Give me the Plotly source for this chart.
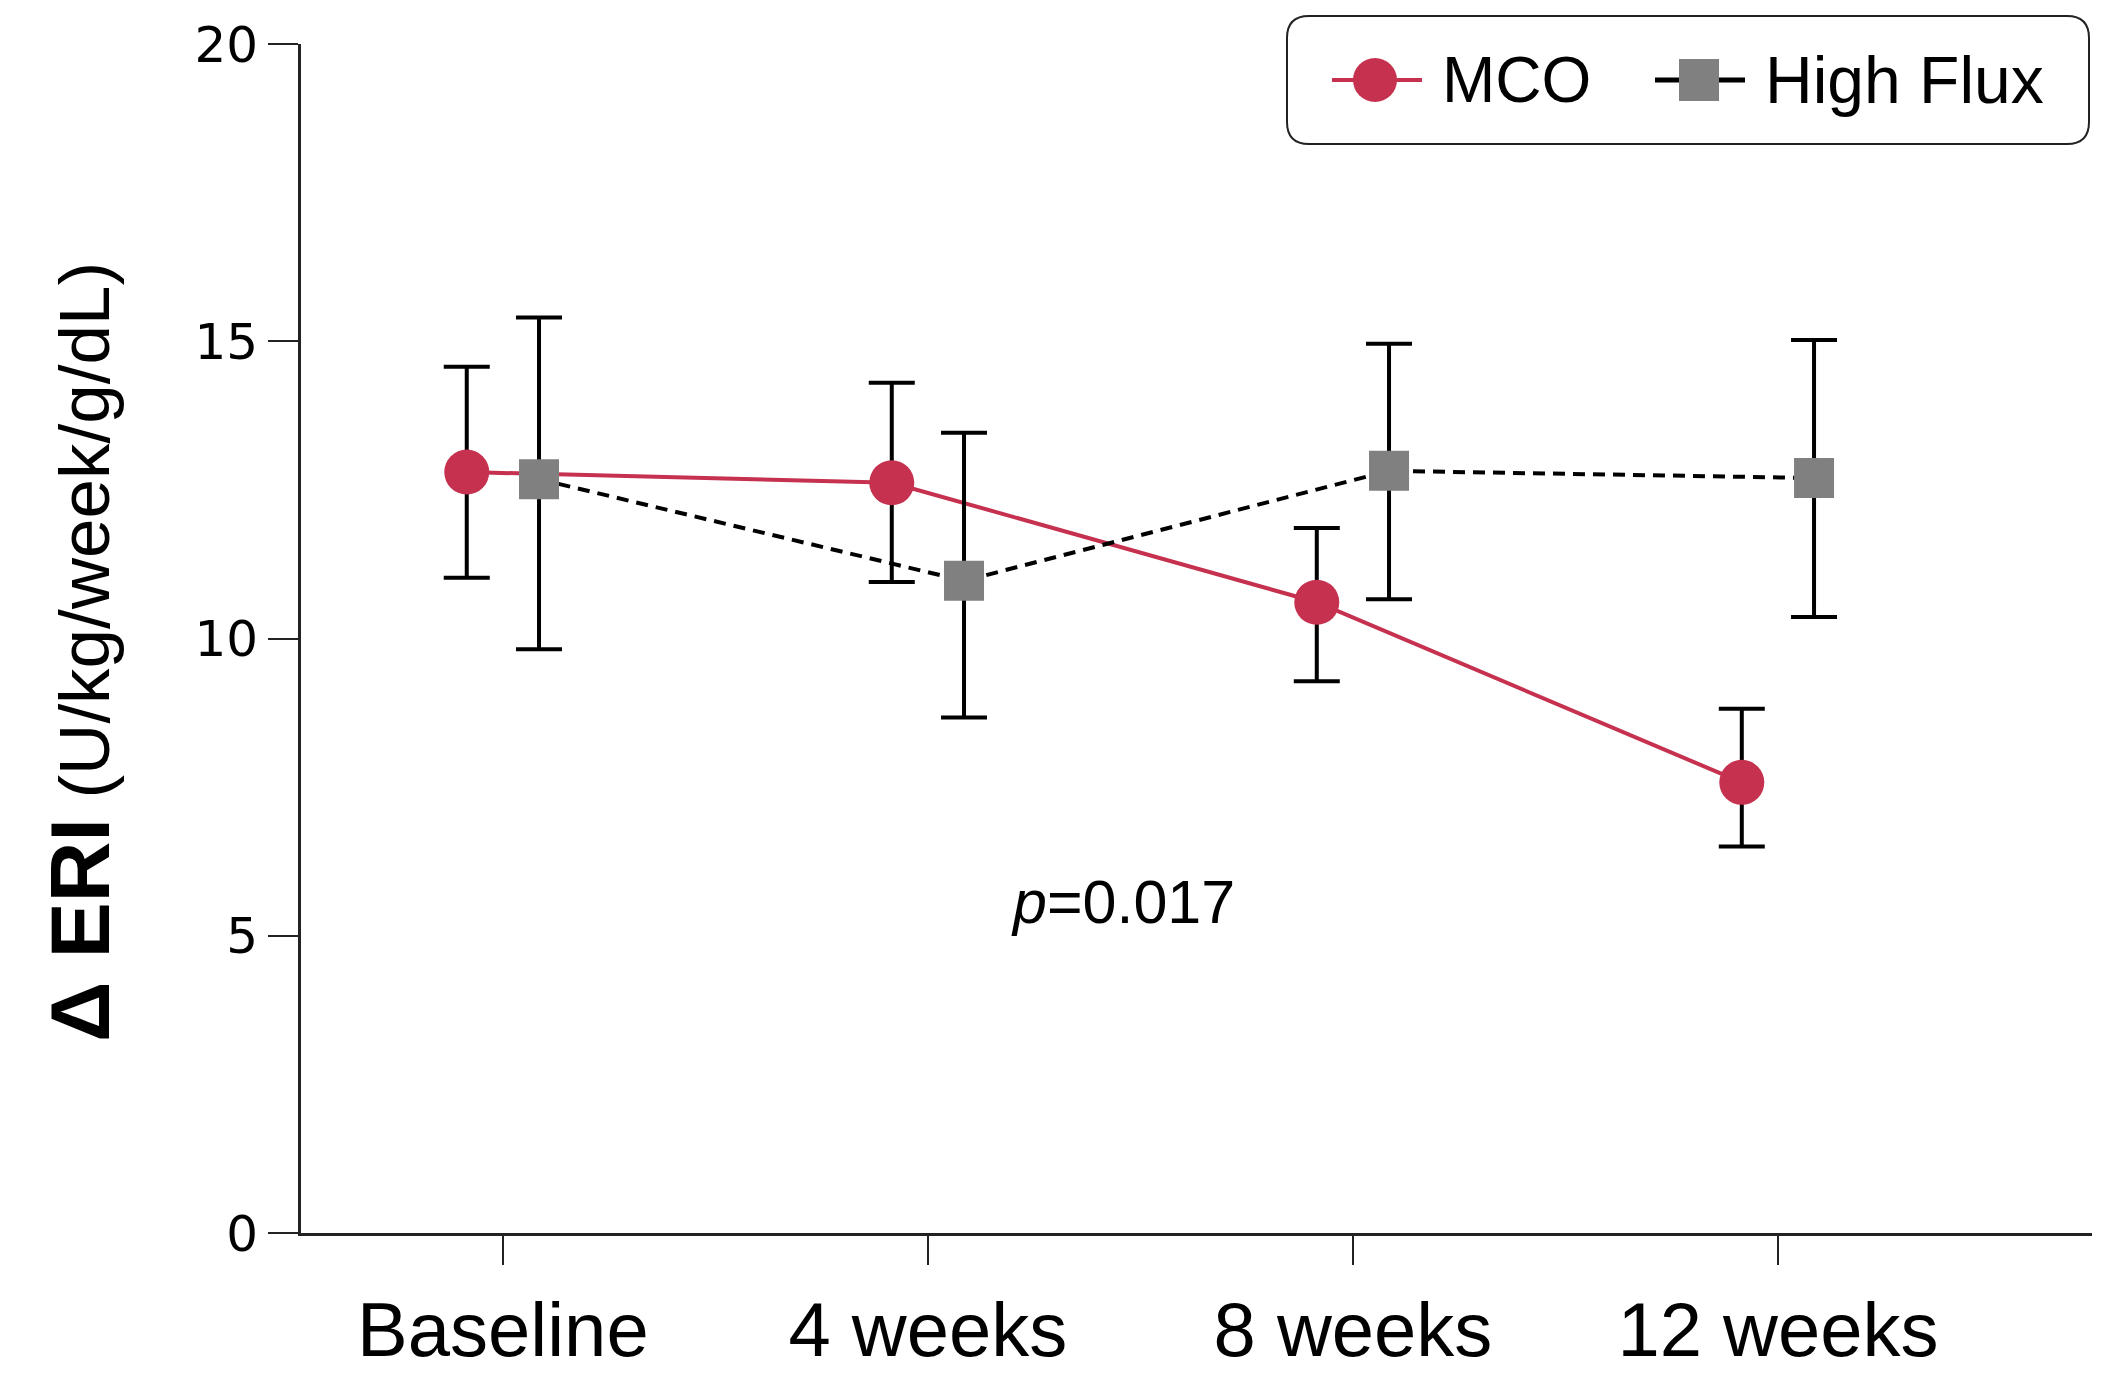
import plotly.graph_objects as go

# ---- data ----
categories = ["Baseline", "4 weeks", "8 weeks", "12 weeks"]
mco_mean = [12.80, 12.62, 10.61, 7.58]
mco_upper = [14.57, 14.30, 11.86, 8.82]
mco_lower = [11.02, 10.95, 9.28, 6.50]
hf_mean = [12.68, 10.97, 12.82, 12.70]
hf_upper = [15.40, 13.46, 14.96, 15.02]
hf_lower = [9.82, 8.67, 10.66, 10.36]
y_ticks = [0, 5, 10, 15, 20]
p_text = "<i>p</i>=0.017"

RED = "#C5314F"
GRAY = "#808080"
W, H = 2109, 1376
L, R, T, B = 301, 17, 44, 143
PW, PH = W - L - R, H - T - B

def px(xp):
    return (xp - L) / PW

def py(yp):
    return (H - B - yp) / PH

dodge = 0.085
idx = list(range(len(categories)))

fig = go.Figure()
fig.add_trace(go.Scatter(
    x=[i - dodge for i in idx], y=mco_mean, mode="lines+markers", name="MCO",
    line=dict(color=RED, width=4),
    marker=dict(symbol="circle", size=45, color=RED),
    error_y=dict(type="data", symmetric=False,
                 array=[u - m for u, m in zip(mco_upper, mco_mean)],
                 arrayminus=[m - l for m, l in zip(mco_mean, mco_lower)],
                 color="black", thickness=4, width=23),
    showlegend=False,
))
fig.add_trace(go.Scatter(
    x=[i + dodge for i in idx], y=hf_mean, mode="lines+markers", name="High Flux",
    line=dict(color="black", width=4, dash="12px,8px"),
    marker=dict(symbol="square", size=40, color=GRAY),
    error_y=dict(type="data", symmetric=False,
                 array=[u - m for u, m in zip(hf_upper, hf_mean)],
                 arrayminus=[m - l for m, l in zip(hf_mean, hf_lower)],
                 color="black", thickness=4, width=23),
    showlegend=False,
))

# ---- legend box (rounded rectangle) ----
x0, x1, y0, y1 = px(1287), px(2089), py(144), py(16)
rx, ry = 22 / PW, 22 / PH
path = (f"M{x0+rx},{y0} L{x1-rx},{y0} Q{x1},{y0} {x1},{y0+ry} "
        f"L{x1},{y1-ry} Q{x1},{y1} {x1-rx},{y1} L{x0+rx},{y1} "
        f"Q{x0},{y1} {x0},{y1-ry} L{x0},{y0+ry} Q{x0},{y0} {x0+rx},{y0} Z")
shapes = [dict(type="path", xref="paper", yref="paper", path=path,
               line=dict(color="#222222", width=2), fillcolor="white", layer="below")]
ly = 80
# MCO legend sample
shapes.append(dict(type="line", xref="paper", yref="paper", x0=px(1332), x1=px(1422),
                   y0=py(ly), y1=py(ly), line=dict(color=RED, width=4)))
shapes.append(dict(type="circle", xref="paper", yref="paper", x0=px(1353), x1=px(1397),
                   y0=py(ly + 22), y1=py(ly - 22), fillcolor=RED, line=dict(width=0)))
# High Flux legend sample
shapes.append(dict(type="line", xref="paper", yref="paper", x0=px(1655), x1=px(1745),
                   y0=py(ly), y1=py(ly), line=dict(color="black", width=5)))
shapes.append(dict(type="rect", xref="paper", yref="paper", x0=px(1679), x1=px(1719),
                   y0=py(ly + 21), y1=py(ly - 21), fillcolor=GRAY, line=dict(width=0)))

FONT = "Liberation Sans, Arial, sans-serif"
annotations = [
    dict(text="MCO", xref="paper", yref="paper", x=px(1440), y=py(ly),
         xanchor="left", yanchor="middle", showarrow=False,
         font=dict(size=64, color="black", family=FONT)),
    dict(text="High Flux", xref="paper", yref="paper", x=px(1763), y=py(ly),
         xanchor="left", yanchor="middle", showarrow=False,
         font=dict(size=66, color="black", family=FONT)),
    dict(text=p_text, xref="x", yref="y", x=1.46, y=5.57, xanchor="center",
         yanchor="middle", showarrow=False,
         font=dict(size=61, color="black", family=FONT)),
    dict(text="<span style='font-size:84px'><b>Δ ERI</b></span> (U/kg/week/g/dL)",
         xref="paper", yref="paper", x=px(80), y=py(652), textangle=-90,
         xanchor="center", yanchor="middle", showarrow=False,
         font=dict(size=71, color="black", family=FONT)),
]

fig.update_layout(
    width=W, height=H,
    margin=dict(l=L, r=R, t=T, b=B, autoexpand=False),
    paper_bgcolor="white", plot_bgcolor="white",
    shapes=shapes, annotations=annotations,
    xaxis=dict(range=[-0.475, 3.739], tickmode="array", tickvals=idx, ticktext=categories,
               showgrid=False, zeroline=False, showline=True, linecolor="#222222", linewidth=3,
               ticks="outside", ticklen=29, tickwidth=2, tickcolor="#222222",
               tickfont=dict(size=76, color="black", family=FONT),
               ticklabelstandoff=0, automargin=False),
    yaxis=dict(range=[0, 20], tickmode="array", tickvals=y_ticks,
               showgrid=False, zeroline=False, showline=True, linecolor="#222222", linewidth=3,
               ticks="outside", ticklen=30, tickwidth=2, tickcolor="#222222",
               tickfont=dict(size=50, color="black", family="DejaVu Sans, sans-serif"),
               ticklabelstandoff=0, automargin=False),
)

fig.write_html("out.html", config={"displayModeBar": False},
               post_script="document.body.style.margin='0';document.body.style.overflow='hidden';")
